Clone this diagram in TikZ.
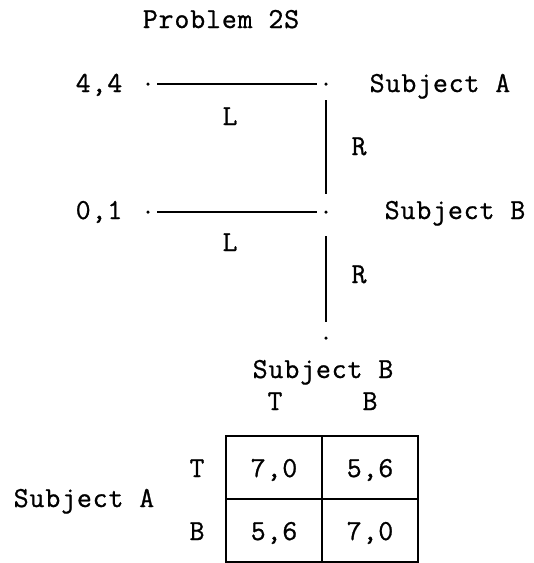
\documentclass[tikz,border=0pt]{standalone}
\usepackage{fontspec}
\newfontfamily\twfont{Latin Modern Mono}[LetterSpace=3, FakeBold=0.9]
\begin{document}
\begin{tikzpicture}[x=1pt,y=-1pt,
  txt/.style={font=\twfont\fontsize{29}{30}\selectfont, inner sep=0pt, anchor=base},
  dot/.style={circle, fill, inner sep=0pt, minimum size=3.5pt},
  hbranch/.style={line width=1.5pt},
  vbranch/.style={line width=2.4pt},
  cellbox/.style={draw, line width=1.8pt, minimum width=96pt, minimum height=63pt, inner sep=0pt}]
\useasboundingbox (0,0) rectangle (534,563);

% title
\node[txt] (title) at (221,28) {Problem 2S};

% tree nodes
\node[dot] (a)   at (326,84)  {};
\node[dot] (pa)  at (148,84)  {};
\node[dot] (b)   at (326,212) {};
\node[dot] (pb)  at (148,212) {};
\node[dot] (e)   at (326,338) {};

\node[txt] (pay1) at (99,92)   {4,4};
\node[txt] (sa)   at (440,92)  {Subject A};
\node[txt] (pay2) at (99,219)  {0,1};
\node[txt] (sb)   at (455,219) {Subject B};

\node[txt] (l1) at (230,125) {L};
\node[txt] (r1) at (359,155) {R};
\node[txt] (l2) at (230,251) {L};
\node[txt] (r2) at (359,283) {R};

% branches
\draw[hbranch, shorten <=7.25pt, shorten >=7.25pt] (pa) -- (a);
\draw[vbranch, shorten <=14.25pt, shorten >=16.25pt] (a) -- (b);
\draw[hbranch, shorten <=7.25pt, shorten >=7.25pt] (pb) -- (b);
\draw[vbranch, shorten <=22.25pt, shorten >=14.25pt] (b) -- (e);

% matrix
\node[txt] (hdr) at (323,378) {Subject B};
\node[txt] (ct) at (275,410) {T};
\node[txt] (cb) at (370,410) {B};
\node[txt] (rt) at (197,477) {T};
\node[txt] (rb) at (197,540) {B};
\node[txt] (rowhdr) at (84,507) {Subject A};

\node[cellbox] (c11) at (274,467.5) {};
\node[cellbox] (c12) at (370,467.5) {};
\node[cellbox] (c21) at (274,530.5) {};
\node[cellbox] (c22) at (370,530.5) {};

\node[txt] (v11) at (274,477) {7,0};
\node[txt] (v12) at (370,477) {5,6};
\node[txt] (v21) at (274,540) {5,6};
\node[txt] (v22) at (370,540) {7,0};
\end{tikzpicture}
\end{document}
